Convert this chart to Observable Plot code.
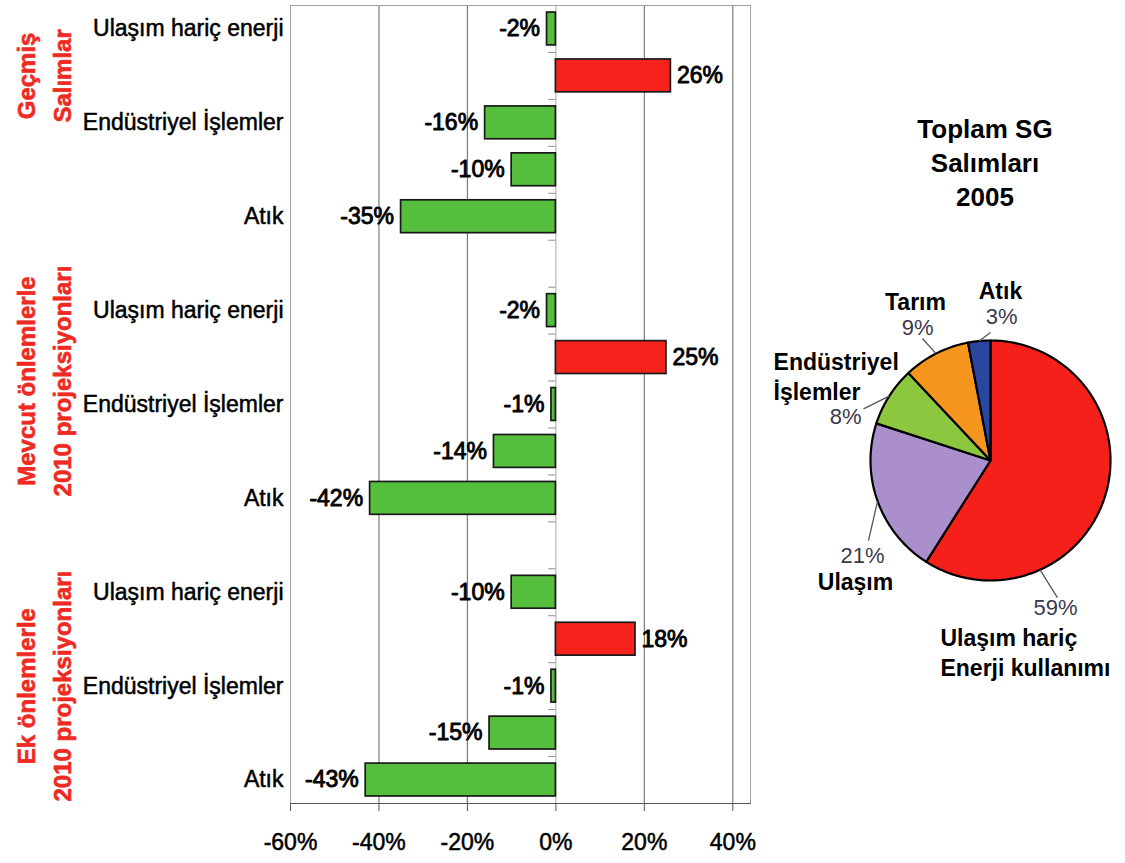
<!DOCTYPE html>
<html>
<head>
<meta charset="utf-8">
<script src="https://cdn.jsdelivr.net/npm/d3@7"></script>
<script src="https://cdn.jsdelivr.net/npm/@observablehq/plot@0.6"></script>
<style>
  html, body { margin: 0; padding: 0; background: #fff; }
  #wrap { position: relative; width: 1125px; height: 863px; overflow: hidden; }
  #bars { position: absolute; left: 0; top: 0; }
  #pie { position: absolute; left: 760px; top: 0; }
  #pieTitle {
    position: absolute; left: 860px; top: 112px; width: 250px;
    text-align: center; font: bold 26px "Liberation Sans", Arial, sans-serif;
    line-height: 34px; color: #000;
  }
</style>
</head>
<body>
<div id="wrap">
  <div id="bars"></div>
  <div id="pie"></div>
  <div id="pieTitle">Toplam SG<br>Salımları<br>2005</div>
</div>
<script>
// ---- Bar chart data: change in emissions by sector, three scenarios ----
const groups = ["Geçmiş\nSalımlar", "Mevcut önlemlerle\n2010 projeksiyonları", "Ek önlemlerle\n2010 projeksiyonları"];
const sectors = ["Ulaşım hariç enerji", "Ulaşım", "Endüstriyel İşlemler", "Tarım", "Atık"];
const labelledSectors = ["Ulaşım hariç enerji", "Endüstriyel İşlemler", "Atık"];
const pastEmissions = [-2, 26, -16, -10, -35];
const currentMeasures2010 = [-2, 25, -1, -14, -42];
const extraMeasures2010 = [-10, 18, -1, -15, -43];
const xTicks = [-60, -40, -20, 0, 20, 40];
const gridValues = [-40, -20, 20, 40];

// ---- Pie chart data: total GHG emissions 2005 ----
const pieNames = ["Ulaşım hariç\nEnerji kullanımı", "Ulaşım", "Endüstriyel\nİşlemler", "Tarım", "Atık"];
const pieShares = [59, 21, 8, 9, 3];

const FONT = '"Liberation Sans", Arial, sans-serif';
const BAR_RED = "#f5231c";
const BAR_GREEN = "#55be3c";
const LABEL_RED = "#ee2a22";
const pieColors = ["#f5201a", "#ab8fcc", "#8dc73f", "#f7961e", "#2a47a0"];

// Rows for the bar chart, with an empty band between scenario groups
const series = [pastEmissions, currentMeasures2010, extraMeasures2010];
const rows = [];
const yKeys = [];
groups.forEach((g, gi) => {
  if (gi > 0) yKeys.push(`gap${gi}`);
  sectors.forEach((s, si) => {
    const key = `${gi}-${si}`;
    yKeys.push(key);
    rows.push({key, group: gi, sector: s, value: series[gi][si]});
  });
});
const rowByKey = new Map(rows.map(d => [d.key, d]));

const W = 760, H = 863, ML = 290, MR = 10, MT = 5, MB = 60;
const step = (H - MT - MB) / yKeys.length;

// Scenario titles sit beside their group, nudged in band units
const groupLabelShift = [-1, -0.5, 0];

const barPlot = Plot.plot({
  width: W, height: H,
  marginLeft: ML, marginRight: MR, marginTop: MT, marginBottom: MB,
  style: {fontFamily: FONT, fontSize: "23px", color: "#000", background: "white"},
  x: {domain: [-60, 44]},
  y: {domain: yKeys, paddingInner: 0.3, paddingOuter: 0.15, round: false},
  marks: [
    Plot.gridX(gridValues, {stroke: "#7d7d7d", strokeOpacity: 1, strokeWidth: 1.2}),
    Plot.ruleX([0], {stroke: "#a8a8a8"}),
    Plot.ruleY(yKeys, {x1: -1.6, x2: 0, dy: -step / 2, stroke: "#8a8a8a"}),
    Plot.frame({stroke: "#a0a0a0"}),
    Plot.frame({anchor: "bottom", stroke: "#555"}),
    Plot.barX(rows, {
      x: "value", y: "key",
      fill: d => d.value > 0 ? BAR_RED : BAR_GREEN,
      stroke: "#1a1a1a", strokeWidth: 1.7
    }),
    Plot.text(rows.filter(d => d.value < 0), {
      x: "value", y: "key", text: d => `${d.value}%`,
      textAnchor: "end", dx: -7, fontSize: 23, fill: "#000", stroke: "#000", strokeWidth: 0.9
    }),
    Plot.text(rows.filter(d => d.value > 0), {
      x: "value", y: "key", text: d => `${d.value}%`,
      textAnchor: "start", dx: 6, fontSize: 23, fill: "#000", stroke: "#000", strokeWidth: 0.9
    }),
    Plot.axisX(xTicks, {
      tickSize: 8, tickPadding: 22, stroke: "#555", label: null,
      tickFormat: d => `${d}%`, fontSize: 23
    }),
    Plot.axisY({
      tickSize: 0, tickPadding: 7, label: null, fontSize: 23,
      tickFormat: k => {
        const r = rowByKey.get(k);
        return r && labelledSectors.includes(r.sector) ? r.sector : "";
      }
    }),
    ...groups.map((g, gi) => Plot.text([g], {
      y: () => `${gi}-2`, text: d => d,
      frameAnchor: "left", textAnchor: "middle", lineAnchor: "middle",
      dx: -249, dy: groupLabelShift[gi] * step,
      rotate: -90, fill: LABEL_RED, stroke: LABEL_RED, strokeWidth: 0.6,
      fontWeight: "bold", fontSize: 24, lineHeight: 1.5
    }))
  ]
});
// slightly heavier lettering on the axis labels
d3.select(barPlot)
  .selectAll('g[aria-label="x-axis tick label"] text, g[aria-label="y-axis tick label"] text')
  .style("stroke", "#000").style("stroke-width", "0.5px");
document.getElementById("bars").append(barPlot);

// ---- Pie chart ----
const R = 120;              // pixels per unit radius
const PW = 365, CX = 230, CY = 460;
const arcs = d3.pie().sort(null).value(d => d)(pieShares);
const slices = arcs.map((a, i) => {
  const pts = [{x: 0, y: 0}];
  const n = Math.max(2, Math.ceil((a.endAngle - a.startAngle) / (Math.PI / 180)));
  for (let k = 0; k <= n; k++) {
    const t = a.startAngle + (a.endAngle - a.startAngle) * k / n;
    pts.push({x: Math.sin(t), y: Math.cos(t)});
  }
  pts.push({x: 0, y: 0});
  return {pts, color: pieColors[i], mid: (a.startAngle + a.endAngle) / 2};
});

// Label placement (in radius units, y up) and leader lines
const pieLabelLayout = [
  {name: [-0.417, -1.592], nameAnchor: "start", pct: [0.542, -1.225], leader: [0.558, -1.142], leaderAngle: 155.6},
  {name: [-1.125, -1.0],   nameAnchor: "middle", pct: [-1.067, -0.792], leader: [-1.017, -0.667], leaderAngle: null},
  {name: [-1.808, 0.71],   nameAnchor: "start", pct: [-1.208, 0.36],   leader: [-1.058, 0.43],   leaderAngle: null},
  {name: [-0.625, 1.333],  nameAnchor: "middle", pct: [-0.608, 1.108],  leader: [-0.567, 1.017],  leaderAngle: null},
  {name: [0.083, 1.425],   nameAnchor: "middle", pct: [0.092, 1.2],     leader: [0.0, 1.067],     leaderAngle: null}
];
const pieLabels = pieNames.map((name, i) => {
  const L = pieLabelLayout[i];
  const ang = L.leaderAngle == null ? slices[i].mid : L.leaderAngle * Math.PI / 180;
  return {
    name, pct: `${pieShares[i]}%`, anchor: L.nameAnchor,
    nx: L.name[0], ny: L.name[1], px: L.pct[0], py: L.pct[1],
    lx1: L.leader[0], ly1: L.leader[1], lx2: Math.sin(ang), ly2: Math.cos(ang)
  };
});

const piePlot = Plot.plot({
  width: PW, height: H, margin: 0,
  style: {fontFamily: FONT, background: "transparent"},
  x: {domain: [-CX / R, (PW - CX) / R], axis: null},
  y: {domain: [-(H - CY) / R, CY / R], axis: null},
  marks: [
    ...slices.map(s => Plot.line(s.pts, {
      x: "x", y: "y", fill: s.color, stroke: "#000", strokeWidth: 2.2, strokeLinejoin: "round"
    })),
    Plot.link(pieLabels, {x1: "lx1", y1: "ly1", x2: "lx2", y2: "ly2", stroke: "#555", strokeWidth: 1.3}),
    Plot.text(pieLabels.filter(d => d.anchor === "middle"), {
      x: "nx", y: "ny", text: "name", textAnchor: "middle",
      fontWeight: "bold", fontSize: 23, fill: "#000", lineHeight: 1.32
    }),
    Plot.text(pieLabels.filter(d => d.anchor === "start"), {
      x: "nx", y: "ny", text: "name", textAnchor: "start",
      fontWeight: "bold", fontSize: 23, fill: "#000", lineHeight: 1.32
    }),
    Plot.text(pieLabels, {
      x: "px", y: "py", text: "pct", textAnchor: "middle",
      fontSize: 22, fill: "#3a3a4c"
    })
  ]
});
document.getElementById("pie").append(piePlot);
</script>
</body>
</html>
